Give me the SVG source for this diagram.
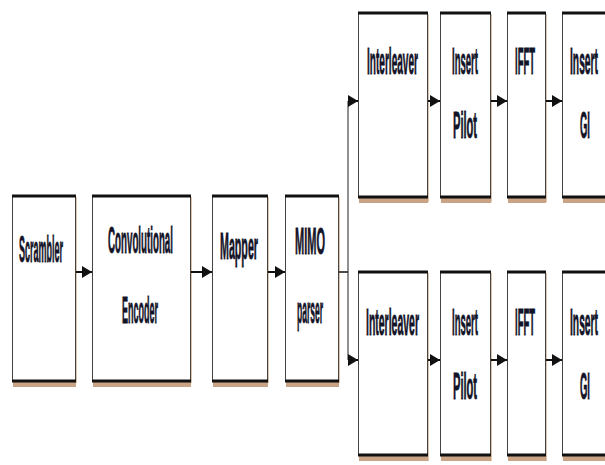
<svg xmlns="http://www.w3.org/2000/svg" width="605" height="465" viewBox="0 0 605 465">
<style>
.box{fill:#fff;stroke:#444;stroke-width:1}
.bar{stroke:#111;stroke-width:3}
.sh{fill:#c9a383}
.shr{fill:#dcc3ad}
.t{font-family:"Liberation Sans",Arial,sans-serif;font-size:37px;font-weight:bold;fill:#141428;stroke:#141428;stroke-width:0.8}
.ln{fill:none;stroke:#111;stroke-width:2}
</style>
<defs>
<marker id="ah" viewBox="0 0 10 12" refX="10" refY="6" markerWidth="10" markerHeight="12" markerUnits="userSpaceOnUse" orient="auto">
<path d="M0,0 L10,6 L0,12 z" fill="#111"/>
</marker>
</defs>
<rect width="605" height="465" fill="#fff"/>

<g id="scrambler">
<rect class="shr" x="75" y="197" width="2" height="186"/>
<rect class="sh" x="13" y="382" width="63" height="5"/>
<rect class="box" x="12.5" y="195.5" width="63" height="186"/>
<line class="bar" x1="12" y1="196" x2="76" y2="196"/>
<line class="bar" x1="12" y1="381" x2="76" y2="381"/>
<text class="t" transform="translate(19,262) scale(0.25,1)" textLength="176" lengthAdjust="spacingAndGlyphs">Scrambler</text>
</g>

<g id="encoder">
<rect class="shr" x="190" y="197" width="2" height="186"/>
<rect class="sh" x="93" y="382" width="98" height="5"/>
<rect class="box" x="92.5" y="195.5" width="98" height="186"/>
<line class="bar" x1="92" y1="196" x2="191" y2="196"/>
<line class="bar" x1="92" y1="381" x2="191" y2="381"/>
<text class="t" transform="translate(108,253) scale(0.25,1)" textLength="260" lengthAdjust="spacingAndGlyphs">Convolutional</text>
<text class="t" transform="translate(122,323) scale(0.25,1)" textLength="144" lengthAdjust="spacingAndGlyphs">Encoder</text>
</g>

<g id="mapper">
<rect class="shr" x="267" y="197" width="2" height="186"/>
<rect class="sh" x="213" y="382" width="55" height="5"/>
<rect class="box" x="212.5" y="195.5" width="55" height="186"/>
<line class="bar" x1="212" y1="196" x2="268" y2="196"/>
<line class="bar" x1="212" y1="381" x2="268" y2="381"/>
<text class="t" transform="translate(220,259) scale(0.25,1)" textLength="152" lengthAdjust="spacingAndGlyphs">Mapper</text>
</g>

<g id="mimo">
<rect class="shr" x="338" y="197" width="2" height="186"/>
<rect class="sh" x="286" y="382" width="53" height="5"/>
<rect class="box" x="285.5" y="195.5" width="53" height="186"/>
<line class="bar" x1="285" y1="196" x2="339" y2="196"/>
<line class="bar" x1="285" y1="381" x2="339" y2="381"/>
<text class="t" transform="translate(295,254) scale(0.25,1)" textLength="120" lengthAdjust="spacingAndGlyphs">MIMO</text>
<text class="t" transform="translate(297,323) scale(0.25,1)" textLength="104" lengthAdjust="spacingAndGlyphs">parser</text>
</g>

<g id="interleaver1">
<rect class="shr" x="427" y="14" width="2" height="188"/>
<rect class="sh" x="359" y="198" width="69" height="5"/>
<rect class="box" x="358.5" y="12.5" width="69" height="185"/>
<line class="bar" x1="358" y1="13" x2="428" y2="13"/>
<line class="bar" x1="358" y1="197" x2="428" y2="197"/>
<text class="t" transform="translate(367,74) scale(0.25,1)" textLength="204" lengthAdjust="spacingAndGlyphs">Interleaver</text>
</g>

<g id="pilot1">
<rect class="shr" x="490" y="14" width="2" height="188"/>
<rect class="sh" x="441" y="198" width="50" height="5"/>
<rect class="box" x="440.5" y="12.5" width="50" height="185"/>
<line class="bar" x1="440" y1="13" x2="491" y2="13"/>
<line class="bar" x1="440" y1="197" x2="491" y2="197"/>
<text class="t" transform="translate(452,74) scale(0.25,1)" textLength="104" lengthAdjust="spacingAndGlyphs">Insert</text>
<text class="t" transform="translate(453,138) scale(0.25,1)" textLength="96" lengthAdjust="spacingAndGlyphs">Pilot</text>
</g>

<g id="ifft1">
<rect class="shr" x="545" y="14" width="2" height="188"/>
<rect class="sh" x="508" y="198" width="38" height="5"/>
<rect class="box" x="507.5" y="12.5" width="38" height="185"/>
<line class="bar" x1="507" y1="13" x2="546" y2="13"/>
<line class="bar" x1="507" y1="197" x2="546" y2="197"/>
<text class="t" transform="translate(515,74) scale(0.25,1)" textLength="80" lengthAdjust="spacingAndGlyphs">IFFT</text>
</g>

<g id="gi1">
<rect class="sh" x="563" y="198" width="50" height="5"/>
<rect class="box" x="562.5" y="12.5" width="50" height="185"/>
<line class="bar" x1="562" y1="13" x2="613" y2="13"/>
<line class="bar" x1="562" y1="197" x2="613" y2="197"/>
<text class="t" transform="translate(570,74) scale(0.25,1)" textLength="112" lengthAdjust="spacingAndGlyphs">Insert</text>
<text class="t" transform="translate(580,138) scale(0.25,1)" textLength="40" lengthAdjust="spacingAndGlyphs">GI</text>
</g>

<g id="interleaver2">
<rect class="shr" x="427" y="273" width="2" height="188"/>
<rect class="sh" x="359" y="456" width="69" height="5"/>
<rect class="box" x="358.5" y="271.5" width="69" height="184"/>
<line class="bar" x1="358" y1="272" x2="428" y2="272"/>
<line class="bar" x1="358" y1="455" x2="428" y2="455"/>
<text class="t" transform="translate(366,335) scale(0.25,1)" textLength="212" lengthAdjust="spacingAndGlyphs">Interleaver</text>
</g>

<g id="pilot2">
<rect class="shr" x="490" y="273" width="2" height="188"/>
<rect class="sh" x="441" y="456" width="50" height="5"/>
<rect class="box" x="440.5" y="271.5" width="50" height="184"/>
<line class="bar" x1="440" y1="272" x2="491" y2="272"/>
<line class="bar" x1="440" y1="455" x2="491" y2="455"/>
<text class="t" transform="translate(452,335) scale(0.25,1)" textLength="104" lengthAdjust="spacingAndGlyphs">Insert</text>
<text class="t" transform="translate(453,399) scale(0.25,1)" textLength="96" lengthAdjust="spacingAndGlyphs">Pilot</text>
</g>

<g id="ifft2">
<rect class="shr" x="545" y="273" width="2" height="188"/>
<rect class="sh" x="508" y="456" width="38" height="5"/>
<rect class="box" x="507.5" y="271.5" width="38" height="184"/>
<line class="bar" x1="507" y1="272" x2="546" y2="272"/>
<line class="bar" x1="507" y1="455" x2="546" y2="455"/>
<text class="t" transform="translate(515,335) scale(0.25,1)" textLength="80" lengthAdjust="spacingAndGlyphs">IFFT</text>
</g>

<g id="gi2">
<rect class="sh" x="563" y="456" width="50" height="5"/>
<rect class="box" x="562.5" y="271.5" width="50" height="184"/>
<line class="bar" x1="562" y1="272" x2="613" y2="272"/>
<line class="bar" x1="562" y1="455" x2="613" y2="455"/>
<text class="t" transform="translate(570,335) scale(0.25,1)" textLength="112" lengthAdjust="spacingAndGlyphs">Insert</text>
<text class="t" transform="translate(580,399) scale(0.25,1)" textLength="40" lengthAdjust="spacingAndGlyphs">GI</text>
</g>

<g id="connectors">
<line class="ln" x1="76" y1="272" x2="92" y2="272" marker-end="url(#ah)"/>
<line class="ln" x1="191" y1="272" x2="212" y2="272" marker-end="url(#ah)"/>
<line class="ln" x1="268" y1="272" x2="285" y2="272" marker-end="url(#ah)"/>
<polyline class="ln" style="stroke-width:1.5" points="339,272 348,272"/>
<line x1="348" y1="101" x2="348" y2="360" stroke="#222" stroke-width="1"/>
<line class="ln" x1="348" y1="101" x2="358" y2="101" marker-end="url(#ah)"/>
<line class="ln" x1="348" y1="360" x2="358" y2="360" marker-end="url(#ah)"/>
<line class="ln" x1="428" y1="101" x2="440" y2="101" marker-end="url(#ah)"/>
<line class="ln" x1="491" y1="101" x2="507" y2="101" marker-end="url(#ah)"/>
<line class="ln" x1="546" y1="101" x2="562" y2="101" marker-end="url(#ah)"/>
<line class="ln" x1="428" y1="360" x2="440" y2="360" marker-end="url(#ah)"/>
<line class="ln" x1="491" y1="360" x2="507" y2="360" marker-end="url(#ah)"/>
<line class="ln" x1="546" y1="360" x2="562" y2="360" marker-end="url(#ah)"/>
</g>
</svg>
